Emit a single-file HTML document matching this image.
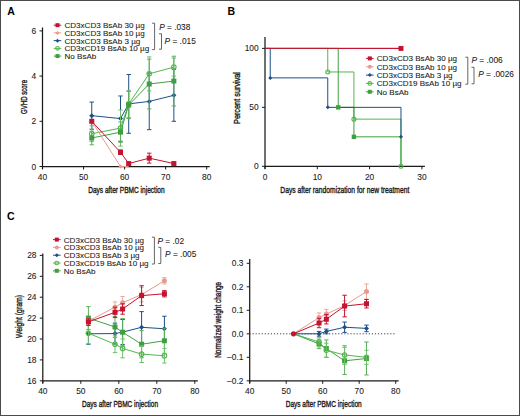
<!DOCTYPE html>
<html><head><meta charset="utf-8"><style>
html,body{margin:0;padding:0;background:#fff;}
body{width:520px;height:416px;overflow:hidden;}
svg{display:block;}
text{font-family:"Liberation Sans",sans-serif;}
</style></head><body>
<svg width="520" height="416" viewBox="0 0 520 416">
<rect x="0" y="0" width="520" height="416" fill="#fff"/>
<text x="7.2" y="14.8" font-size="10.5" font-weight="bold" fill="#000">A</text>
<text x="227.5" y="14.9" font-size="10.5" font-weight="bold" fill="#000">B</text>
<text x="7.0" y="220.4" font-size="10.6" font-weight="bold" fill="#000">C</text>
<line x1="42.50" y1="27.50" x2="42.50" y2="169.00" stroke="#1a1a1a" stroke-width="1.25" />
<line x1="42.50" y1="166.50" x2="209.70" y2="166.50" stroke="#1a1a1a" stroke-width="1.25" />
<line x1="42.50" y1="166.50" x2="42.50" y2="169.50" stroke="#1a1a1a" stroke-width="1" />
<text x="42.50" y="179.70" font-size="8.4" text-anchor="middle" fill="#1a1a1a" stroke="#1a1a1a" stroke-width="0.08" >40</text>
<line x1="83.55" y1="166.50" x2="83.55" y2="169.50" stroke="#1a1a1a" stroke-width="1" />
<text x="83.55" y="179.70" font-size="8.4" text-anchor="middle" fill="#1a1a1a" stroke="#1a1a1a" stroke-width="0.08" >50</text>
<line x1="124.60" y1="166.50" x2="124.60" y2="169.50" stroke="#1a1a1a" stroke-width="1" />
<text x="124.60" y="179.70" font-size="8.4" text-anchor="middle" fill="#1a1a1a" stroke="#1a1a1a" stroke-width="0.08" >60</text>
<line x1="165.65" y1="166.50" x2="165.65" y2="169.50" stroke="#1a1a1a" stroke-width="1" />
<text x="165.65" y="179.70" font-size="8.4" text-anchor="middle" fill="#1a1a1a" stroke="#1a1a1a" stroke-width="0.08" >70</text>
<line x1="206.70" y1="166.50" x2="206.70" y2="169.50" stroke="#1a1a1a" stroke-width="1" />
<text x="206.70" y="179.70" font-size="8.4" text-anchor="middle" fill="#1a1a1a" stroke="#1a1a1a" stroke-width="0.08" >80</text>
<line x1="39.50" y1="166.50" x2="42.50" y2="166.50" stroke="#1a1a1a" stroke-width="1" />
<text x="36.20" y="169.50" font-size="8.4" text-anchor="end" fill="#1a1a1a" stroke="#1a1a1a" stroke-width="0.08" >0</text>
<line x1="39.50" y1="121.30" x2="42.50" y2="121.30" stroke="#1a1a1a" stroke-width="1" />
<text x="36.20" y="124.30" font-size="8.4" text-anchor="end" fill="#1a1a1a" stroke="#1a1a1a" stroke-width="0.08" >2</text>
<line x1="39.50" y1="76.10" x2="42.50" y2="76.10" stroke="#1a1a1a" stroke-width="1" />
<text x="36.20" y="79.10" font-size="8.4" text-anchor="end" fill="#1a1a1a" stroke="#1a1a1a" stroke-width="0.08" >4</text>
<line x1="39.50" y1="30.90" x2="42.50" y2="30.90" stroke="#1a1a1a" stroke-width="1" />
<text x="36.20" y="33.90" font-size="8.4" text-anchor="end" fill="#1a1a1a" stroke="#1a1a1a" stroke-width="0.08" >6</text>
<text transform="translate(26.5,97) rotate(-90)" font-size="9.6" font-weight="normal" text-anchor="middle" fill="#1a1a1a" stroke="#1a1a1a" stroke-width="0.38" textLength="34" lengthAdjust="spacingAndGlyphs">GVHD score</text>
<text x="126.4" y="193" font-size="9.6" font-weight="normal" text-anchor="middle" fill="#1a1a1a" stroke="#1a1a1a" stroke-width="0.38" textLength="76.5" lengthAdjust="spacingAndGlyphs">Days after PBMC injection</text>
<line x1="91.76" y1="102.09" x2="91.76" y2="129.21" stroke="#1d4f86" stroke-width="1" />
<line x1="89.56" y1="102.09" x2="93.96" y2="102.09" stroke="#1d4f86" stroke-width="1" />
<line x1="89.56" y1="129.21" x2="93.96" y2="129.21" stroke="#1d4f86" stroke-width="1" />
<line x1="120.50" y1="95.99" x2="120.50" y2="141.19" stroke="#1d4f86" stroke-width="1" />
<line x1="118.30" y1="95.99" x2="122.70" y2="95.99" stroke="#1d4f86" stroke-width="1" />
<line x1="118.30" y1="141.19" x2="122.70" y2="141.19" stroke="#1d4f86" stroke-width="1" />
<line x1="128.71" y1="74.52" x2="128.71" y2="133.28" stroke="#1d4f86" stroke-width="1" />
<line x1="126.51" y1="74.52" x2="130.91" y2="74.52" stroke="#1d4f86" stroke-width="1" />
<line x1="126.51" y1="133.28" x2="130.91" y2="133.28" stroke="#1d4f86" stroke-width="1" />
<line x1="149.23" y1="73.16" x2="149.23" y2="129.66" stroke="#1d4f86" stroke-width="1" />
<line x1="147.03" y1="73.16" x2="151.43" y2="73.16" stroke="#1d4f86" stroke-width="1" />
<line x1="147.03" y1="129.66" x2="151.43" y2="129.66" stroke="#1d4f86" stroke-width="1" />
<line x1="173.86" y1="69.32" x2="173.86" y2="121.30" stroke="#1d4f86" stroke-width="1" />
<line x1="171.66" y1="69.32" x2="176.06" y2="69.32" stroke="#1d4f86" stroke-width="1" />
<line x1="171.66" y1="121.30" x2="176.06" y2="121.30" stroke="#1d4f86" stroke-width="1" />
<polyline points="91.76,115.65 120.50,118.59 128.71,103.90 149.23,101.41 173.86,95.31" fill="none" stroke="#1d4f86" stroke-width="1"/>
<path d="M89.26,115.65L91.76,113.15L94.26,115.65L91.76,118.15Z" fill="#1d4f86"/>
<path d="M118.00,118.59L120.50,116.09L123.00,118.59L120.50,121.09Z" fill="#1d4f86"/>
<path d="M126.21,103.90L128.71,101.40L131.21,103.90L128.71,106.40Z" fill="#1d4f86"/>
<path d="M146.73,101.41L149.23,98.91L151.73,101.41L149.23,103.91Z" fill="#1d4f86"/>
<path d="M171.36,95.31L173.86,92.81L176.36,95.31L173.86,97.81Z" fill="#1d4f86"/>
<line x1="91.76" y1="125.82" x2="91.76" y2="141.64" stroke="#6fc06b" stroke-width="1" />
<line x1="89.56" y1="125.82" x2="93.96" y2="125.82" stroke="#6fc06b" stroke-width="1" />
<line x1="89.56" y1="141.64" x2="93.96" y2="141.64" stroke="#6fc06b" stroke-width="1" />
<line x1="120.50" y1="110.00" x2="120.50" y2="146.16" stroke="#6fc06b" stroke-width="1" />
<line x1="118.30" y1="110.00" x2="122.70" y2="110.00" stroke="#6fc06b" stroke-width="1" />
<line x1="118.30" y1="146.16" x2="122.70" y2="146.16" stroke="#6fc06b" stroke-width="1" />
<line x1="128.71" y1="90.34" x2="128.71" y2="117.46" stroke="#6fc06b" stroke-width="1" />
<line x1="126.51" y1="90.34" x2="130.91" y2="90.34" stroke="#6fc06b" stroke-width="1" />
<line x1="126.51" y1="117.46" x2="130.91" y2="117.46" stroke="#6fc06b" stroke-width="1" />
<line x1="149.23" y1="56.89" x2="149.23" y2="90.79" stroke="#6fc06b" stroke-width="1" />
<line x1="147.03" y1="56.89" x2="151.43" y2="56.89" stroke="#6fc06b" stroke-width="1" />
<line x1="147.03" y1="90.79" x2="151.43" y2="90.79" stroke="#6fc06b" stroke-width="1" />
<line x1="173.86" y1="58.02" x2="173.86" y2="76.10" stroke="#6fc06b" stroke-width="1" />
<line x1="171.66" y1="58.02" x2="176.06" y2="58.02" stroke="#6fc06b" stroke-width="1" />
<line x1="171.66" y1="76.10" x2="176.06" y2="76.10" stroke="#6fc06b" stroke-width="1" />
<polyline points="91.76,133.73 120.50,128.08 128.71,103.90 149.23,73.84 173.86,67.06" fill="none" stroke="#52b64e" stroke-width="1"/>
<circle cx="91.76" cy="133.73" r="2.25" fill="none" stroke="#52b64e" stroke-width="1.1"/>
<circle cx="120.50" cy="128.08" r="2.25" fill="none" stroke="#52b64e" stroke-width="1.1"/>
<circle cx="128.71" cy="103.90" r="2.25" fill="none" stroke="#52b64e" stroke-width="1.1"/>
<circle cx="149.23" cy="73.84" r="2.25" fill="none" stroke="#52b64e" stroke-width="1.1"/>
<circle cx="173.86" cy="67.06" r="2.25" fill="none" stroke="#52b64e" stroke-width="1.1"/>
<line x1="91.76" y1="131.24" x2="91.76" y2="144.80" stroke="#5cae5c" stroke-width="1" />
<line x1="89.56" y1="131.24" x2="93.96" y2="131.24" stroke="#5cae5c" stroke-width="1" />
<line x1="89.56" y1="144.80" x2="93.96" y2="144.80" stroke="#5cae5c" stroke-width="1" />
<line x1="120.50" y1="121.98" x2="120.50" y2="142.32" stroke="#5cae5c" stroke-width="1" />
<line x1="118.30" y1="121.98" x2="122.70" y2="121.98" stroke="#5cae5c" stroke-width="1" />
<line x1="118.30" y1="142.32" x2="122.70" y2="142.32" stroke="#5cae5c" stroke-width="1" />
<line x1="128.71" y1="91.47" x2="128.71" y2="118.59" stroke="#5cae5c" stroke-width="1" />
<line x1="126.51" y1="91.47" x2="130.91" y2="91.47" stroke="#5cae5c" stroke-width="1" />
<line x1="126.51" y1="118.59" x2="130.91" y2="118.59" stroke="#5cae5c" stroke-width="1" />
<line x1="149.23" y1="59.15" x2="149.23" y2="108.87" stroke="#5cae5c" stroke-width="1" />
<line x1="147.03" y1="59.15" x2="151.43" y2="59.15" stroke="#5cae5c" stroke-width="1" />
<line x1="147.03" y1="108.87" x2="151.43" y2="108.87" stroke="#5cae5c" stroke-width="1" />
<line x1="173.86" y1="56.21" x2="173.86" y2="105.93" stroke="#5cae5c" stroke-width="1" />
<line x1="171.66" y1="56.21" x2="176.06" y2="56.21" stroke="#5cae5c" stroke-width="1" />
<line x1="171.66" y1="105.93" x2="176.06" y2="105.93" stroke="#5cae5c" stroke-width="1" />
<polyline points="91.76,138.02 120.50,132.15 128.71,105.03 149.23,84.01 173.86,81.07" fill="none" stroke="#3f9f3f" stroke-width="1"/>
<rect x="89.26" y="135.52" width="5.00" height="5.00" fill="#3f9f3f"/>
<rect x="118.00" y="129.65" width="5.00" height="5.00" fill="#3f9f3f"/>
<rect x="126.21" y="102.53" width="5.00" height="5.00" fill="#3f9f3f"/>
<rect x="146.73" y="81.51" width="5.00" height="5.00" fill="#3f9f3f"/>
<rect x="171.36" y="78.57" width="5.00" height="5.00" fill="#3f9f3f"/>
<polyline points="91.76,121.30 120.50,166.50 128.71,166.50" fill="none" stroke="#e89a8e" stroke-width="1"/>
<path d="M118.50,166.50L120.50,164.50L122.50,166.50L120.50,168.50Z" fill="#e89a8e"/>
<line x1="120.50" y1="150.00" x2="120.50" y2="154.52" stroke="#c4122f" stroke-width="1" />
<line x1="118.30" y1="150.00" x2="122.70" y2="150.00" stroke="#c4122f" stroke-width="1" />
<line x1="118.30" y1="154.52" x2="122.70" y2="154.52" stroke="#c4122f" stroke-width="1" />
<line x1="128.71" y1="162.43" x2="128.71" y2="164.69" stroke="#c4122f" stroke-width="1" />
<line x1="126.51" y1="162.43" x2="130.91" y2="162.43" stroke="#c4122f" stroke-width="1" />
<line x1="126.51" y1="164.69" x2="130.91" y2="164.69" stroke="#c4122f" stroke-width="1" />
<line x1="149.23" y1="153.17" x2="149.23" y2="163.11" stroke="#c4122f" stroke-width="1" />
<line x1="147.03" y1="153.17" x2="151.43" y2="153.17" stroke="#c4122f" stroke-width="1" />
<line x1="147.03" y1="163.11" x2="151.43" y2="163.11" stroke="#c4122f" stroke-width="1" />
<line x1="173.86" y1="162.43" x2="173.86" y2="164.69" stroke="#c4122f" stroke-width="1" />
<line x1="171.66" y1="162.43" x2="176.06" y2="162.43" stroke="#c4122f" stroke-width="1" />
<line x1="171.66" y1="164.69" x2="176.06" y2="164.69" stroke="#c4122f" stroke-width="1" />
<polyline points="91.76,121.30 120.50,152.26 128.71,163.56 149.23,158.14 173.86,163.56" fill="none" stroke="#c4122f" stroke-width="1"/>
<rect x="89.26" y="118.80" width="5.00" height="5.00" fill="#c4122f"/>
<rect x="118.00" y="149.76" width="5.00" height="5.00" fill="#c4122f"/>
<rect x="126.21" y="161.06" width="5.00" height="5.00" fill="#c4122f"/>
<rect x="146.73" y="155.64" width="5.00" height="5.00" fill="#c4122f"/>
<rect x="171.36" y="161.06" width="5.00" height="5.00" fill="#c4122f"/>
<line x1="53.70" y1="25.20" x2="61.30" y2="25.20" stroke="#c4122f" stroke-width="1" />
<rect x="55.50" y="23.20" width="4.00" height="4.00" fill="#c4122f"/>
<text x="64.50" y="28.10" font-size="8.05" text-anchor="start" fill="#1a1a1a" stroke="#1a1a1a" stroke-width="0.08" >CD3xCD3 BsAb 30 µg</text>
<line x1="53.70" y1="32.92" x2="61.30" y2="32.92" stroke="#e89a8e" stroke-width="1" />
<path d="M55.50,32.92L57.50,30.92L59.50,32.92L57.50,34.92Z" fill="#e89a8e"/>
<text x="64.50" y="35.82" font-size="8.05" text-anchor="start" fill="#1a1a1a" stroke="#1a1a1a" stroke-width="0.08" >CD3xCD3 BsAb 10 µg</text>
<line x1="53.70" y1="40.64" x2="61.30" y2="40.64" stroke="#1d4f86" stroke-width="1" />
<path d="M55.50,40.64L57.50,38.64L59.50,40.64L57.50,42.64Z" fill="#1d4f86"/>
<text x="64.50" y="43.54" font-size="8.05" text-anchor="start" fill="#1a1a1a" stroke="#1a1a1a" stroke-width="0.08" >CD3xCD3 BsAb 3 µg</text>
<line x1="53.70" y1="48.36" x2="61.30" y2="48.36" stroke="#52b64e" stroke-width="1" />
<circle cx="57.50" cy="48.36" r="1.80" fill="none" stroke="#52b64e" stroke-width="1.1"/>
<text x="64.50" y="51.26" font-size="8.05" text-anchor="start" fill="#1a1a1a" stroke="#1a1a1a" stroke-width="0.08" >CD3xCD19 BsAb 10 µg</text>
<line x1="53.70" y1="56.08" x2="61.30" y2="56.08" stroke="#3f9f3f" stroke-width="1" />
<rect x="55.50" y="54.08" width="4.00" height="4.00" fill="#3f9f3f"/>
<text x="64.50" y="58.98" font-size="8.05" text-anchor="start" fill="#1a1a1a" stroke="#1a1a1a" stroke-width="0.08" >No BsAb</text>
<path d="M152.10,23.20H154.60V49.60H152.10" fill="none" stroke="#555" stroke-width="0.9"/>
<path d="M159.00,33.80H161.50V49.20H159.00" fill="none" stroke="#555" stroke-width="0.9"/>
<text x="159.20" y="29.90" font-size="8.3" fill="#1a1a1a" stroke="#1a1a1a" stroke-width="0.08"><tspan font-style="italic">P</tspan> = .038</text>
<text x="164.60" y="43.50" font-size="8.3" fill="#1a1a1a" stroke="#1a1a1a" stroke-width="0.08"><tspan font-style="italic">P</tspan> = .015</text>
<line x1="265.00" y1="37.00" x2="265.00" y2="168.80" stroke="#1a1a1a" stroke-width="1.25" />
<line x1="265.00" y1="166.30" x2="424.90" y2="166.30" stroke="#1a1a1a" stroke-width="1.25" />
<line x1="265.00" y1="166.30" x2="265.00" y2="169.30" stroke="#1a1a1a" stroke-width="1" />
<text x="265.00" y="179.50" font-size="8.4" text-anchor="middle" fill="#1a1a1a" stroke="#1a1a1a" stroke-width="0.08" >0</text>
<line x1="317.30" y1="166.30" x2="317.30" y2="169.30" stroke="#1a1a1a" stroke-width="1" />
<text x="317.30" y="179.50" font-size="8.4" text-anchor="middle" fill="#1a1a1a" stroke="#1a1a1a" stroke-width="0.08" >10</text>
<line x1="369.60" y1="166.30" x2="369.60" y2="169.30" stroke="#1a1a1a" stroke-width="1" />
<text x="369.60" y="179.50" font-size="8.4" text-anchor="middle" fill="#1a1a1a" stroke="#1a1a1a" stroke-width="0.08" >20</text>
<line x1="421.90" y1="166.30" x2="421.90" y2="169.30" stroke="#1a1a1a" stroke-width="1" />
<text x="421.90" y="179.50" font-size="8.4" text-anchor="middle" fill="#1a1a1a" stroke="#1a1a1a" stroke-width="0.08" >30</text>
<line x1="262.00" y1="166.30" x2="265.00" y2="166.30" stroke="#1a1a1a" stroke-width="1" />
<text x="258.70" y="169.30" font-size="8.4" text-anchor="end" fill="#1a1a1a" stroke="#1a1a1a" stroke-width="0.08" >0</text>
<line x1="262.00" y1="107.35" x2="265.00" y2="107.35" stroke="#1a1a1a" stroke-width="1" />
<text x="258.70" y="110.35" font-size="8.4" text-anchor="end" fill="#1a1a1a" stroke="#1a1a1a" stroke-width="0.08" >50</text>
<line x1="262.00" y1="48.40" x2="265.00" y2="48.40" stroke="#1a1a1a" stroke-width="1" />
<text x="258.70" y="51.40" font-size="8.4" text-anchor="end" fill="#1a1a1a" stroke="#1a1a1a" stroke-width="0.08" >100</text>
<text transform="translate(239.5,98) rotate(-90)" font-size="9.6" font-weight="normal" text-anchor="middle" fill="#1a1a1a" stroke="#1a1a1a" stroke-width="0.38" textLength="52" lengthAdjust="spacingAndGlyphs">Percent survival</text>
<text x="344.8" y="192.5" font-size="9.6" font-weight="normal" text-anchor="middle" fill="#1a1a1a" stroke="#1a1a1a" stroke-width="0.38" textLength="129" lengthAdjust="spacingAndGlyphs">Days after randomization for new treatment</text>
<polyline points="265.00,48.40 400.98,48.40" fill="none" stroke="#c4122f" stroke-width="1.0"/>
<rect x="398.68" y="46.10" width="4.60" height="4.60" fill="#c4122f"/>
<polyline points="265.00,48.40 327.76,48.40 327.76,71.98 353.91,71.98 353.91,119.14 400.98,119.14 400.98,166.30" fill="none" stroke="#52b64e" stroke-width="1.0"/>
<polyline points="265.00,48.40 338.22,48.40 338.22,107.35 353.91,107.35 353.91,136.83 400.98,136.83 400.98,166.30" fill="none" stroke="#3f9f3f" stroke-width="1.0"/>
<polyline points="265.00,48.40 270.23,48.40 270.23,77.88 327.76,77.88 327.76,107.35 400.98,107.35 400.98,136.83" fill="none" stroke="#1d4f86" stroke-width="1.0"/>
<line x1="265.00" y1="48.40" x2="400.98" y2="48.40" stroke="#c4122f" stroke-width="1.0" />
<rect x="398.68" y="46.10" width="4.60" height="4.60" fill="#c4122f"/>
<circle cx="327.76" cy="71.98" r="1.98" fill="none" stroke="#52b64e" stroke-width="1.1"/>
<circle cx="353.91" cy="119.14" r="1.98" fill="none" stroke="#52b64e" stroke-width="1.1"/>
<circle cx="400.98" cy="166.30" r="1.98" fill="none" stroke="#52b64e" stroke-width="1.1"/>
<rect x="336.02" y="105.15" width="4.40" height="4.40" fill="#3f9f3f"/>
<rect x="351.71" y="134.63" width="4.40" height="4.40" fill="#3f9f3f"/>
<path d="M268.23,77.88L270.23,75.88L272.23,77.88L270.23,79.88Z" fill="#1d4f86"/>
<path d="M325.76,107.35L327.76,105.35L329.76,107.35L327.76,109.35Z" fill="#1d4f86"/>
<path d="M398.98,136.83L400.98,134.83L402.98,136.83L400.98,138.83Z" fill="#1d4f86"/>
<line x1="366.00" y1="58.40" x2="373.60" y2="58.40" stroke="#c4122f" stroke-width="1" />
<rect x="367.80" y="56.40" width="4.00" height="4.00" fill="#c4122f"/>
<text x="376.80" y="61.30" font-size="8.05" text-anchor="start" fill="#1a1a1a" stroke="#1a1a1a" stroke-width="0.08" >CD3xCD3 BsAb 30 µg</text>
<line x1="366.00" y1="66.75" x2="373.60" y2="66.75" stroke="#e89a8e" stroke-width="1" />
<circle cx="369.80" cy="66.75" r="2.00" fill="#e89a8e"/>
<text x="376.80" y="69.65" font-size="8.05" text-anchor="start" fill="#1a1a1a" stroke="#1a1a1a" stroke-width="0.08" >CD3xCD3 BsAb 10 µg</text>
<line x1="366.00" y1="75.10" x2="373.60" y2="75.10" stroke="#1d4f86" stroke-width="1" />
<path d="M367.80,75.10L369.80,73.10L371.80,75.10L369.80,77.10Z" fill="#1d4f86"/>
<text x="376.80" y="78.00" font-size="8.05" text-anchor="start" fill="#1a1a1a" stroke="#1a1a1a" stroke-width="0.08" >CD3xCD3 BsAb 3 µg</text>
<line x1="366.00" y1="83.45" x2="373.60" y2="83.45" stroke="#52b64e" stroke-width="1" />
<circle cx="369.80" cy="83.45" r="1.80" fill="none" stroke="#52b64e" stroke-width="1.1"/>
<text x="376.80" y="86.35" font-size="8.05" text-anchor="start" fill="#1a1a1a" stroke="#1a1a1a" stroke-width="0.08" >CD3xCD19 BsAb 10 µg</text>
<line x1="366.00" y1="91.80" x2="373.60" y2="91.80" stroke="#3f9f3f" stroke-width="1" />
<rect x="367.80" y="89.80" width="4.00" height="4.00" fill="#3f9f3f"/>
<text x="376.80" y="94.70" font-size="8.05" text-anchor="start" fill="#1a1a1a" stroke="#1a1a1a" stroke-width="0.08" >No BsAb</text>
<path d="M465.30,57.20H467.80V84.20H465.30" fill="none" stroke="#555" stroke-width="0.9"/>
<path d="M471.50,67.30H474.00V83.80H471.50" fill="none" stroke="#555" stroke-width="0.9"/>
<text x="471.50" y="63.20" font-size="8.3" fill="#1a1a1a" stroke="#1a1a1a" stroke-width="0.08"><tspan font-style="italic">P</tspan> = .006</text>
<text x="478.20" y="76.50" font-size="8.3" fill="#1a1a1a" stroke="#1a1a1a" stroke-width="0.08"><tspan font-style="italic">P</tspan> = .0026</text>
<line x1="42.80" y1="253.50" x2="42.80" y2="383.30" stroke="#1a1a1a" stroke-width="1.25" />
<line x1="42.80" y1="380.80" x2="197.80" y2="380.80" stroke="#1a1a1a" stroke-width="1.25" />
<line x1="42.80" y1="380.80" x2="42.80" y2="383.80" stroke="#1a1a1a" stroke-width="1" />
<text x="42.80" y="394.00" font-size="8.4" text-anchor="middle" fill="#1a1a1a" stroke="#1a1a1a" stroke-width="0.08" >40</text>
<line x1="80.80" y1="380.80" x2="80.80" y2="383.80" stroke="#1a1a1a" stroke-width="1" />
<text x="80.80" y="394.00" font-size="8.4" text-anchor="middle" fill="#1a1a1a" stroke="#1a1a1a" stroke-width="0.08" >50</text>
<line x1="118.80" y1="380.80" x2="118.80" y2="383.80" stroke="#1a1a1a" stroke-width="1" />
<text x="118.80" y="394.00" font-size="8.4" text-anchor="middle" fill="#1a1a1a" stroke="#1a1a1a" stroke-width="0.08" >60</text>
<line x1="156.80" y1="380.80" x2="156.80" y2="383.80" stroke="#1a1a1a" stroke-width="1" />
<text x="156.80" y="394.00" font-size="8.4" text-anchor="middle" fill="#1a1a1a" stroke="#1a1a1a" stroke-width="0.08" >70</text>
<line x1="194.80" y1="380.80" x2="194.80" y2="383.80" stroke="#1a1a1a" stroke-width="1" />
<text x="194.80" y="394.00" font-size="8.4" text-anchor="middle" fill="#1a1a1a" stroke="#1a1a1a" stroke-width="0.08" >80</text>
<line x1="39.80" y1="380.80" x2="42.80" y2="380.80" stroke="#1a1a1a" stroke-width="1" />
<text x="36.50" y="383.80" font-size="8.4" text-anchor="end" fill="#1a1a1a" stroke="#1a1a1a" stroke-width="0.08" >16</text>
<line x1="39.80" y1="359.90" x2="42.80" y2="359.90" stroke="#1a1a1a" stroke-width="1" />
<text x="36.50" y="362.90" font-size="8.4" text-anchor="end" fill="#1a1a1a" stroke="#1a1a1a" stroke-width="0.08" >18</text>
<line x1="39.80" y1="339.00" x2="42.80" y2="339.00" stroke="#1a1a1a" stroke-width="1" />
<text x="36.50" y="342.00" font-size="8.4" text-anchor="end" fill="#1a1a1a" stroke="#1a1a1a" stroke-width="0.08" >20</text>
<line x1="39.80" y1="318.10" x2="42.80" y2="318.10" stroke="#1a1a1a" stroke-width="1" />
<text x="36.50" y="321.10" font-size="8.4" text-anchor="end" fill="#1a1a1a" stroke="#1a1a1a" stroke-width="0.08" >22</text>
<line x1="39.80" y1="297.20" x2="42.80" y2="297.20" stroke="#1a1a1a" stroke-width="1" />
<text x="36.50" y="300.20" font-size="8.4" text-anchor="end" fill="#1a1a1a" stroke="#1a1a1a" stroke-width="0.08" >24</text>
<line x1="39.80" y1="276.30" x2="42.80" y2="276.30" stroke="#1a1a1a" stroke-width="1" />
<text x="36.50" y="279.30" font-size="8.4" text-anchor="end" fill="#1a1a1a" stroke="#1a1a1a" stroke-width="0.08" >26</text>
<line x1="39.80" y1="255.40" x2="42.80" y2="255.40" stroke="#1a1a1a" stroke-width="1" />
<text x="36.50" y="258.40" font-size="8.4" text-anchor="end" fill="#1a1a1a" stroke="#1a1a1a" stroke-width="0.08" >28</text>
<text transform="translate(22.3,316.6) rotate(-90)" font-size="9.6" font-weight="normal" text-anchor="middle" fill="#1a1a1a" stroke="#1a1a1a" stroke-width="0.38" textLength="43" lengthAdjust="spacingAndGlyphs">Weight (gram)</text>
<text x="120" y="407" font-size="9.6" font-weight="normal" text-anchor="middle" fill="#1a1a1a" stroke="#1a1a1a" stroke-width="0.38" textLength="76" lengthAdjust="spacingAndGlyphs">Days after PBMC injection</text>
<line x1="88.40" y1="323.33" x2="88.40" y2="344.23" stroke="#1d4f86" stroke-width="1" />
<line x1="86.20" y1="323.33" x2="90.60" y2="323.33" stroke="#1d4f86" stroke-width="1" />
<line x1="86.20" y1="344.23" x2="90.60" y2="344.23" stroke="#1d4f86" stroke-width="1" />
<line x1="115.00" y1="323.12" x2="115.00" y2="344.02" stroke="#1d4f86" stroke-width="1" />
<line x1="112.80" y1="323.12" x2="117.20" y2="323.12" stroke="#1d4f86" stroke-width="1" />
<line x1="112.80" y1="344.02" x2="117.20" y2="344.02" stroke="#1d4f86" stroke-width="1" />
<line x1="122.60" y1="319.56" x2="122.60" y2="344.64" stroke="#1d4f86" stroke-width="1" />
<line x1="120.40" y1="319.56" x2="124.80" y2="319.56" stroke="#1d4f86" stroke-width="1" />
<line x1="120.40" y1="344.64" x2="124.80" y2="344.64" stroke="#1d4f86" stroke-width="1" />
<line x1="141.60" y1="311.62" x2="141.60" y2="342.97" stroke="#1d4f86" stroke-width="1" />
<line x1="139.40" y1="311.62" x2="143.80" y2="311.62" stroke="#1d4f86" stroke-width="1" />
<line x1="139.40" y1="342.97" x2="143.80" y2="342.97" stroke="#1d4f86" stroke-width="1" />
<line x1="164.40" y1="316.22" x2="164.40" y2="341.30" stroke="#1d4f86" stroke-width="1" />
<line x1="162.20" y1="316.22" x2="166.60" y2="316.22" stroke="#1d4f86" stroke-width="1" />
<line x1="162.20" y1="341.30" x2="166.60" y2="341.30" stroke="#1d4f86" stroke-width="1" />
<polyline points="88.40,333.78 115.00,333.57 122.60,332.10 141.60,327.30 164.40,328.76" fill="none" stroke="#1d4f86" stroke-width="1"/>
<path d="M85.90,333.78L88.40,331.28L90.90,333.78L88.40,336.28Z" fill="#1d4f86"/>
<path d="M112.50,333.57L115.00,331.07L117.50,333.57L115.00,336.07Z" fill="#1d4f86"/>
<path d="M120.10,332.10L122.60,329.60L125.10,332.10L122.60,334.60Z" fill="#1d4f86"/>
<path d="M139.10,327.30L141.60,324.80L144.10,327.30L141.60,329.80Z" fill="#1d4f86"/>
<path d="M161.90,328.76L164.40,326.26L166.90,328.76L164.40,331.26Z" fill="#1d4f86"/>
<line x1="88.40" y1="306.61" x2="88.40" y2="329.60" stroke="#5cae5c" stroke-width="1" />
<line x1="86.20" y1="306.61" x2="90.60" y2="306.61" stroke="#5cae5c" stroke-width="1" />
<line x1="86.20" y1="329.60" x2="90.60" y2="329.60" stroke="#5cae5c" stroke-width="1" />
<line x1="115.00" y1="316.53" x2="115.00" y2="337.43" stroke="#5cae5c" stroke-width="1" />
<line x1="112.80" y1="316.53" x2="117.20" y2="316.53" stroke="#5cae5c" stroke-width="1" />
<line x1="112.80" y1="337.43" x2="117.20" y2="337.43" stroke="#5cae5c" stroke-width="1" />
<line x1="122.60" y1="318.62" x2="122.60" y2="345.79" stroke="#5cae5c" stroke-width="1" />
<line x1="120.40" y1="318.62" x2="124.80" y2="318.62" stroke="#5cae5c" stroke-width="1" />
<line x1="120.40" y1="345.79" x2="124.80" y2="345.79" stroke="#5cae5c" stroke-width="1" />
<line x1="141.60" y1="330.64" x2="141.60" y2="357.81" stroke="#5cae5c" stroke-width="1" />
<line x1="139.40" y1="330.64" x2="143.80" y2="330.64" stroke="#5cae5c" stroke-width="1" />
<line x1="139.40" y1="357.81" x2="143.80" y2="357.81" stroke="#5cae5c" stroke-width="1" />
<line x1="164.40" y1="328.24" x2="164.40" y2="353.32" stroke="#5cae5c" stroke-width="1" />
<line x1="162.20" y1="328.24" x2="166.60" y2="328.24" stroke="#5cae5c" stroke-width="1" />
<line x1="162.20" y1="353.32" x2="166.60" y2="353.32" stroke="#5cae5c" stroke-width="1" />
<polyline points="88.40,318.10 115.00,326.98 122.60,332.21 141.60,344.23 164.40,340.78" fill="none" stroke="#3f9f3f" stroke-width="1"/>
<rect x="85.90" y="315.60" width="5.00" height="5.00" fill="#3f9f3f"/>
<rect x="112.50" y="324.48" width="5.00" height="5.00" fill="#3f9f3f"/>
<rect x="120.10" y="329.71" width="5.00" height="5.00" fill="#3f9f3f"/>
<rect x="139.10" y="341.73" width="5.00" height="5.00" fill="#3f9f3f"/>
<rect x="161.90" y="338.28" width="5.00" height="5.00" fill="#3f9f3f"/>
<line x1="88.40" y1="322.80" x2="88.40" y2="343.70" stroke="#6fc06b" stroke-width="1" />
<line x1="86.20" y1="322.80" x2="90.60" y2="322.80" stroke="#6fc06b" stroke-width="1" />
<line x1="86.20" y1="343.70" x2="90.60" y2="343.70" stroke="#6fc06b" stroke-width="1" />
<line x1="115.00" y1="335.87" x2="115.00" y2="352.59" stroke="#6fc06b" stroke-width="1" />
<line x1="112.80" y1="335.87" x2="117.20" y2="335.87" stroke="#6fc06b" stroke-width="1" />
<line x1="112.80" y1="352.59" x2="117.20" y2="352.59" stroke="#6fc06b" stroke-width="1" />
<line x1="122.60" y1="339.00" x2="122.60" y2="357.81" stroke="#6fc06b" stroke-width="1" />
<line x1="120.40" y1="339.00" x2="124.80" y2="339.00" stroke="#6fc06b" stroke-width="1" />
<line x1="120.40" y1="357.81" x2="124.80" y2="357.81" stroke="#6fc06b" stroke-width="1" />
<line x1="141.60" y1="345.79" x2="141.60" y2="362.51" stroke="#6fc06b" stroke-width="1" />
<line x1="139.40" y1="345.79" x2="143.80" y2="345.79" stroke="#6fc06b" stroke-width="1" />
<line x1="139.40" y1="362.51" x2="143.80" y2="362.51" stroke="#6fc06b" stroke-width="1" />
<line x1="164.40" y1="348.41" x2="164.40" y2="363.04" stroke="#6fc06b" stroke-width="1" />
<line x1="162.20" y1="348.41" x2="166.60" y2="348.41" stroke="#6fc06b" stroke-width="1" />
<line x1="162.20" y1="363.04" x2="166.60" y2="363.04" stroke="#6fc06b" stroke-width="1" />
<polyline points="88.40,333.25 115.00,344.23 122.60,348.40 141.60,354.15 164.40,355.72" fill="none" stroke="#52b64e" stroke-width="1"/>
<circle cx="88.40" cy="333.25" r="2.25" fill="none" stroke="#52b64e" stroke-width="1.1"/>
<circle cx="115.00" cy="344.23" r="2.25" fill="none" stroke="#52b64e" stroke-width="1.1"/>
<circle cx="122.60" cy="348.40" r="2.25" fill="none" stroke="#52b64e" stroke-width="1.1"/>
<circle cx="141.60" cy="354.15" r="2.25" fill="none" stroke="#52b64e" stroke-width="1.1"/>
<circle cx="164.40" cy="355.72" r="2.25" fill="none" stroke="#52b64e" stroke-width="1.1"/>
<line x1="88.40" y1="318.10" x2="88.40" y2="324.37" stroke="#eba89e" stroke-width="1" />
<line x1="86.20" y1="318.10" x2="90.60" y2="318.10" stroke="#eba89e" stroke-width="1" />
<line x1="86.20" y1="324.37" x2="90.60" y2="324.37" stroke="#eba89e" stroke-width="1" />
<line x1="115.00" y1="301.90" x2="115.00" y2="312.35" stroke="#eba89e" stroke-width="1" />
<line x1="112.80" y1="301.90" x2="117.20" y2="301.90" stroke="#eba89e" stroke-width="1" />
<line x1="112.80" y1="312.35" x2="117.20" y2="312.35" stroke="#eba89e" stroke-width="1" />
<line x1="122.60" y1="296.47" x2="122.60" y2="309.01" stroke="#eba89e" stroke-width="1" />
<line x1="120.40" y1="296.47" x2="124.80" y2="296.47" stroke="#eba89e" stroke-width="1" />
<line x1="120.40" y1="309.01" x2="124.80" y2="309.01" stroke="#eba89e" stroke-width="1" />
<line x1="141.60" y1="287.27" x2="141.60" y2="301.90" stroke="#eba89e" stroke-width="1" />
<line x1="139.40" y1="287.27" x2="143.80" y2="287.27" stroke="#eba89e" stroke-width="1" />
<line x1="139.40" y1="301.90" x2="143.80" y2="301.90" stroke="#eba89e" stroke-width="1" />
<line x1="164.40" y1="277.66" x2="164.40" y2="283.93" stroke="#eba89e" stroke-width="1" />
<line x1="162.20" y1="277.66" x2="166.60" y2="277.66" stroke="#eba89e" stroke-width="1" />
<line x1="162.20" y1="283.93" x2="166.60" y2="283.93" stroke="#eba89e" stroke-width="1" />
<polyline points="88.40,321.24 115.00,307.13 122.60,302.74 141.60,294.59 164.40,280.79" fill="none" stroke="#e89a8e" stroke-width="1"/>
<circle cx="88.40" cy="321.24" r="2.50" fill="#e89a8e"/>
<circle cx="115.00" cy="307.13" r="2.50" fill="#e89a8e"/>
<circle cx="122.60" cy="302.74" r="2.50" fill="#e89a8e"/>
<circle cx="141.60" cy="294.59" r="2.50" fill="#e89a8e"/>
<circle cx="164.40" cy="280.79" r="2.50" fill="#e89a8e"/>
<line x1="88.40" y1="318.20" x2="88.40" y2="325.52" stroke="#c4122f" stroke-width="1" />
<line x1="86.20" y1="318.20" x2="90.60" y2="318.20" stroke="#c4122f" stroke-width="1" />
<line x1="86.20" y1="325.52" x2="90.60" y2="325.52" stroke="#c4122f" stroke-width="1" />
<line x1="115.00" y1="307.13" x2="115.00" y2="317.58" stroke="#c4122f" stroke-width="1" />
<line x1="112.80" y1="307.13" x2="117.20" y2="307.13" stroke="#c4122f" stroke-width="1" />
<line x1="112.80" y1="317.58" x2="117.20" y2="317.58" stroke="#c4122f" stroke-width="1" />
<line x1="122.60" y1="303.78" x2="122.60" y2="314.23" stroke="#c4122f" stroke-width="1" />
<line x1="120.40" y1="303.78" x2="124.80" y2="303.78" stroke="#c4122f" stroke-width="1" />
<line x1="120.40" y1="314.23" x2="124.80" y2="314.23" stroke="#c4122f" stroke-width="1" />
<line x1="141.60" y1="285.71" x2="141.60" y2="305.56" stroke="#c4122f" stroke-width="1" />
<line x1="139.40" y1="285.71" x2="143.80" y2="285.71" stroke="#c4122f" stroke-width="1" />
<line x1="139.40" y1="305.56" x2="143.80" y2="305.56" stroke="#c4122f" stroke-width="1" />
<line x1="164.40" y1="290.62" x2="164.40" y2="296.89" stroke="#c4122f" stroke-width="1" />
<line x1="162.20" y1="290.62" x2="166.60" y2="290.62" stroke="#c4122f" stroke-width="1" />
<line x1="162.20" y1="296.89" x2="166.60" y2="296.89" stroke="#c4122f" stroke-width="1" />
<polyline points="88.40,321.86 115.00,312.35 122.60,309.01 141.60,295.63 164.40,293.75" fill="none" stroke="#c4122f" stroke-width="1"/>
<rect x="85.90" y="319.36" width="5.00" height="5.00" fill="#c4122f"/>
<rect x="112.50" y="309.85" width="5.00" height="5.00" fill="#c4122f"/>
<rect x="120.10" y="306.51" width="5.00" height="5.00" fill="#c4122f"/>
<rect x="139.10" y="293.13" width="5.00" height="5.00" fill="#c4122f"/>
<rect x="161.90" y="291.25" width="5.00" height="5.00" fill="#c4122f"/>
<line x1="53.00" y1="239.60" x2="60.60" y2="239.60" stroke="#c4122f" stroke-width="1" />
<rect x="54.80" y="237.60" width="4.00" height="4.00" fill="#c4122f"/>
<text x="63.80" y="242.50" font-size="8.05" text-anchor="start" fill="#1a1a1a" stroke="#1a1a1a" stroke-width="0.08" >CD3xCD3 BsAb 30 µg</text>
<line x1="53.00" y1="247.40" x2="60.60" y2="247.40" stroke="#e89a8e" stroke-width="1" />
<circle cx="56.80" cy="247.40" r="2.00" fill="#e89a8e"/>
<text x="63.80" y="250.30" font-size="8.05" text-anchor="start" fill="#1a1a1a" stroke="#1a1a1a" stroke-width="0.08" >CD3xCD3 BsAb 10 µg</text>
<line x1="53.00" y1="255.20" x2="60.60" y2="255.20" stroke="#1d4f86" stroke-width="1" />
<path d="M54.80,255.20L56.80,253.20L58.80,255.20L56.80,257.20Z" fill="#1d4f86"/>
<text x="63.80" y="258.10" font-size="8.05" text-anchor="start" fill="#1a1a1a" stroke="#1a1a1a" stroke-width="0.08" >CD3xCD3 BsAb 3 µg</text>
<line x1="53.00" y1="263.00" x2="60.60" y2="263.00" stroke="#52b64e" stroke-width="1" />
<circle cx="56.80" cy="263.00" r="1.80" fill="none" stroke="#52b64e" stroke-width="1.1"/>
<text x="63.80" y="265.90" font-size="8.05" text-anchor="start" fill="#1a1a1a" stroke="#1a1a1a" stroke-width="0.08" >CD3xCD19 BsAb 10 µg</text>
<line x1="53.00" y1="270.80" x2="60.60" y2="270.80" stroke="#3f9f3f" stroke-width="1" />
<rect x="54.80" y="268.80" width="4.00" height="4.00" fill="#3f9f3f"/>
<text x="63.80" y="273.70" font-size="8.05" text-anchor="start" fill="#1a1a1a" stroke="#1a1a1a" stroke-width="0.08" >No BsAb</text>
<path d="M151.90,237.20H154.40V264.00H151.90" fill="none" stroke="#555" stroke-width="0.9"/>
<path d="M158.30,247.30H160.80V263.50H158.30" fill="none" stroke="#555" stroke-width="0.9"/>
<text x="157.50" y="244.00" font-size="8.3" fill="#1a1a1a" stroke="#1a1a1a" stroke-width="0.08"><tspan font-style="italic">P</tspan> = .02</text>
<text x="165.10" y="256.60" font-size="8.3" fill="#1a1a1a" stroke="#1a1a1a" stroke-width="0.08"><tspan font-style="italic">P</tspan> = .005</text>
<line x1="249.70" y1="259.00" x2="249.70" y2="383.30" stroke="#1a1a1a" stroke-width="1.25" />
<line x1="249.70" y1="380.80" x2="398.70" y2="380.80" stroke="#1a1a1a" stroke-width="1.25" />
<line x1="249.70" y1="380.80" x2="249.70" y2="383.80" stroke="#1a1a1a" stroke-width="1" />
<text x="249.70" y="394.00" font-size="8.4" text-anchor="middle" fill="#1a1a1a" stroke="#1a1a1a" stroke-width="0.08" >40</text>
<line x1="286.20" y1="380.80" x2="286.20" y2="383.80" stroke="#1a1a1a" stroke-width="1" />
<text x="286.20" y="394.00" font-size="8.4" text-anchor="middle" fill="#1a1a1a" stroke="#1a1a1a" stroke-width="0.08" >50</text>
<line x1="322.70" y1="380.80" x2="322.70" y2="383.80" stroke="#1a1a1a" stroke-width="1" />
<text x="322.70" y="394.00" font-size="8.4" text-anchor="middle" fill="#1a1a1a" stroke="#1a1a1a" stroke-width="0.08" >60</text>
<line x1="359.20" y1="380.80" x2="359.20" y2="383.80" stroke="#1a1a1a" stroke-width="1" />
<text x="359.20" y="394.00" font-size="8.4" text-anchor="middle" fill="#1a1a1a" stroke="#1a1a1a" stroke-width="0.08" >70</text>
<line x1="395.70" y1="380.80" x2="395.70" y2="383.80" stroke="#1a1a1a" stroke-width="1" />
<text x="395.70" y="394.00" font-size="8.4" text-anchor="middle" fill="#1a1a1a" stroke="#1a1a1a" stroke-width="0.08" >80</text>
<line x1="246.70" y1="380.80" x2="249.70" y2="380.80" stroke="#1a1a1a" stroke-width="1" />
<text x="243.40" y="383.80" font-size="8.4" text-anchor="end" fill="#1a1a1a" stroke="#1a1a1a" stroke-width="0.08" >–0.2</text>
<line x1="246.70" y1="357.30" x2="249.70" y2="357.30" stroke="#1a1a1a" stroke-width="1" />
<text x="243.40" y="360.30" font-size="8.4" text-anchor="end" fill="#1a1a1a" stroke="#1a1a1a" stroke-width="0.08" >–0.1</text>
<line x1="246.70" y1="333.80" x2="249.70" y2="333.80" stroke="#1a1a1a" stroke-width="1" />
<text x="243.40" y="336.80" font-size="8.4" text-anchor="end" fill="#1a1a1a" stroke="#1a1a1a" stroke-width="0.08" >0.0</text>
<line x1="246.70" y1="310.30" x2="249.70" y2="310.30" stroke="#1a1a1a" stroke-width="1" />
<text x="243.40" y="313.30" font-size="8.4" text-anchor="end" fill="#1a1a1a" stroke="#1a1a1a" stroke-width="0.08" >0.1</text>
<line x1="246.70" y1="286.80" x2="249.70" y2="286.80" stroke="#1a1a1a" stroke-width="1" />
<text x="243.40" y="289.80" font-size="8.4" text-anchor="end" fill="#1a1a1a" stroke="#1a1a1a" stroke-width="0.08" >0.2</text>
<line x1="246.70" y1="263.30" x2="249.70" y2="263.30" stroke="#1a1a1a" stroke-width="1" />
<text x="243.40" y="266.30" font-size="8.4" text-anchor="end" fill="#1a1a1a" stroke="#1a1a1a" stroke-width="0.08" >0.3</text>
<text transform="translate(221,319.8) rotate(-90)" font-size="9.6" font-weight="normal" text-anchor="middle" fill="#1a1a1a" stroke="#1a1a1a" stroke-width="0.38" textLength="76" lengthAdjust="spacingAndGlyphs">Normalized weight change</text>
<text x="323.7" y="407" font-size="9.6" font-weight="normal" text-anchor="middle" fill="#1a1a1a" stroke="#1a1a1a" stroke-width="0.38" textLength="76" lengthAdjust="spacingAndGlyphs">Days after PBMC injection</text>
<line x1="249.45" y1="333.80" x2="394.50" y2="333.80" stroke="#444" stroke-width="1" stroke-dasharray="1.2 1.86"/>
<line x1="319.05" y1="339.20" x2="319.05" y2="348.61" stroke="#5cae5c" stroke-width="1" />
<line x1="316.85" y1="339.20" x2="321.25" y2="339.20" stroke="#5cae5c" stroke-width="1" />
<line x1="316.85" y1="348.61" x2="321.25" y2="348.61" stroke="#5cae5c" stroke-width="1" />
<line x1="326.35" y1="339.91" x2="326.35" y2="357.30" stroke="#5cae5c" stroke-width="1" />
<line x1="324.15" y1="339.91" x2="328.55" y2="339.91" stroke="#5cae5c" stroke-width="1" />
<line x1="324.15" y1="357.30" x2="328.55" y2="357.30" stroke="#5cae5c" stroke-width="1" />
<line x1="344.60" y1="347.19" x2="344.60" y2="374.46" stroke="#5cae5c" stroke-width="1" />
<line x1="342.40" y1="347.19" x2="346.80" y2="347.19" stroke="#5cae5c" stroke-width="1" />
<line x1="342.40" y1="374.46" x2="346.80" y2="374.46" stroke="#5cae5c" stroke-width="1" />
<line x1="366.50" y1="342.02" x2="366.50" y2="374.93" stroke="#5cae5c" stroke-width="1" />
<line x1="364.30" y1="342.02" x2="368.70" y2="342.02" stroke="#5cae5c" stroke-width="1" />
<line x1="364.30" y1="374.93" x2="368.70" y2="374.93" stroke="#5cae5c" stroke-width="1" />
<polyline points="293.50,333.80 319.05,343.90 326.35,348.61 344.60,360.82 366.50,358.48" fill="none" stroke="#3f9f3f" stroke-width="1"/>
<rect x="316.55" y="341.40" width="5.00" height="5.00" fill="#3f9f3f"/>
<rect x="323.85" y="346.11" width="5.00" height="5.00" fill="#3f9f3f"/>
<rect x="342.10" y="358.32" width="5.00" height="5.00" fill="#3f9f3f"/>
<rect x="364.00" y="355.98" width="5.00" height="5.00" fill="#3f9f3f"/>
<line x1="319.05" y1="337.32" x2="319.05" y2="346.73" stroke="#6fc06b" stroke-width="1" />
<line x1="316.85" y1="337.32" x2="321.25" y2="337.32" stroke="#6fc06b" stroke-width="1" />
<line x1="316.85" y1="346.73" x2="321.25" y2="346.73" stroke="#6fc06b" stroke-width="1" />
<line x1="326.35" y1="343.20" x2="326.35" y2="357.30" stroke="#6fc06b" stroke-width="1" />
<line x1="324.15" y1="343.20" x2="328.55" y2="343.20" stroke="#6fc06b" stroke-width="1" />
<line x1="324.15" y1="357.30" x2="328.55" y2="357.30" stroke="#6fc06b" stroke-width="1" />
<line x1="344.60" y1="345.55" x2="344.60" y2="364.35" stroke="#6fc06b" stroke-width="1" />
<line x1="342.40" y1="345.55" x2="346.80" y2="345.55" stroke="#6fc06b" stroke-width="1" />
<line x1="342.40" y1="364.35" x2="346.80" y2="364.35" stroke="#6fc06b" stroke-width="1" />
<line x1="366.50" y1="350.25" x2="366.50" y2="364.35" stroke="#6fc06b" stroke-width="1" />
<line x1="364.30" y1="350.25" x2="368.70" y2="350.25" stroke="#6fc06b" stroke-width="1" />
<line x1="364.30" y1="364.35" x2="368.70" y2="364.35" stroke="#6fc06b" stroke-width="1" />
<polyline points="293.50,333.80 319.05,342.03 326.35,350.25 344.60,354.95 366.50,357.30" fill="none" stroke="#52b64e" stroke-width="1"/>
<circle cx="319.05" cy="342.03" r="2.25" fill="none" stroke="#52b64e" stroke-width="1.1"/>
<circle cx="326.35" cy="350.25" r="2.25" fill="none" stroke="#52b64e" stroke-width="1.1"/>
<circle cx="344.60" cy="354.95" r="2.25" fill="none" stroke="#52b64e" stroke-width="1.1"/>
<circle cx="366.50" cy="357.30" r="2.25" fill="none" stroke="#52b64e" stroke-width="1.1"/>
<line x1="319.05" y1="331.45" x2="319.05" y2="336.15" stroke="#1d4f86" stroke-width="1" />
<line x1="316.85" y1="331.45" x2="321.25" y2="331.45" stroke="#1d4f86" stroke-width="1" />
<line x1="316.85" y1="336.15" x2="321.25" y2="336.15" stroke="#1d4f86" stroke-width="1" />
<line x1="326.35" y1="329.10" x2="326.35" y2="333.80" stroke="#1d4f86" stroke-width="1" />
<line x1="324.15" y1="329.10" x2="328.55" y2="329.10" stroke="#1d4f86" stroke-width="1" />
<line x1="324.15" y1="333.80" x2="328.55" y2="333.80" stroke="#1d4f86" stroke-width="1" />
<line x1="344.60" y1="322.05" x2="344.60" y2="332.39" stroke="#1d4f86" stroke-width="1" />
<line x1="342.40" y1="322.05" x2="346.80" y2="322.05" stroke="#1d4f86" stroke-width="1" />
<line x1="342.40" y1="332.39" x2="346.80" y2="332.39" stroke="#1d4f86" stroke-width="1" />
<line x1="366.50" y1="325.11" x2="366.50" y2="331.69" stroke="#1d4f86" stroke-width="1" />
<line x1="364.30" y1="325.11" x2="368.70" y2="325.11" stroke="#1d4f86" stroke-width="1" />
<line x1="364.30" y1="331.69" x2="368.70" y2="331.69" stroke="#1d4f86" stroke-width="1" />
<polyline points="293.50,333.80 319.05,333.80 326.35,331.45 344.60,327.22 366.50,328.39" fill="none" stroke="#1d4f86" stroke-width="1"/>
<path d="M316.55,333.80L319.05,331.30L321.55,333.80L319.05,336.30Z" fill="#1d4f86"/>
<path d="M323.85,331.45L326.35,328.95L328.85,331.45L326.35,333.95Z" fill="#1d4f86"/>
<path d="M342.10,327.22L344.60,324.72L347.10,327.22L344.60,329.72Z" fill="#1d4f86"/>
<path d="M364.00,328.39L366.50,325.89L369.00,328.39L366.50,330.89Z" fill="#1d4f86"/>
<line x1="319.05" y1="312.88" x2="319.05" y2="322.29" stroke="#eba89e" stroke-width="1" />
<line x1="316.85" y1="312.88" x2="321.25" y2="312.88" stroke="#eba89e" stroke-width="1" />
<line x1="316.85" y1="322.29" x2="321.25" y2="322.29" stroke="#eba89e" stroke-width="1" />
<line x1="326.35" y1="309.36" x2="326.35" y2="318.76" stroke="#eba89e" stroke-width="1" />
<line x1="324.15" y1="309.36" x2="328.55" y2="309.36" stroke="#eba89e" stroke-width="1" />
<line x1="324.15" y1="318.76" x2="328.55" y2="318.76" stroke="#eba89e" stroke-width="1" />
<line x1="344.60" y1="300.90" x2="344.60" y2="310.30" stroke="#eba89e" stroke-width="1" />
<line x1="342.40" y1="300.90" x2="346.80" y2="300.90" stroke="#eba89e" stroke-width="1" />
<line x1="342.40" y1="310.30" x2="346.80" y2="310.30" stroke="#eba89e" stroke-width="1" />
<line x1="366.50" y1="283.98" x2="366.50" y2="299.02" stroke="#eba89e" stroke-width="1" />
<line x1="364.30" y1="283.98" x2="368.70" y2="283.98" stroke="#eba89e" stroke-width="1" />
<line x1="364.30" y1="299.02" x2="368.70" y2="299.02" stroke="#eba89e" stroke-width="1" />
<polyline points="293.50,333.80 319.05,317.59 326.35,314.06 344.60,305.60 366.50,291.50" fill="none" stroke="#e89a8e" stroke-width="1"/>
<circle cx="319.05" cy="317.59" r="2.50" fill="#e89a8e"/>
<circle cx="326.35" cy="314.06" r="2.50" fill="#e89a8e"/>
<circle cx="344.60" cy="305.60" r="2.50" fill="#e89a8e"/>
<circle cx="366.50" cy="291.50" r="2.50" fill="#e89a8e"/>
<line x1="319.05" y1="318.29" x2="319.05" y2="327.69" stroke="#c4122f" stroke-width="1" />
<line x1="316.85" y1="318.29" x2="321.25" y2="318.29" stroke="#c4122f" stroke-width="1" />
<line x1="316.85" y1="327.69" x2="321.25" y2="327.69" stroke="#c4122f" stroke-width="1" />
<line x1="326.35" y1="314.53" x2="326.35" y2="323.93" stroke="#c4122f" stroke-width="1" />
<line x1="324.15" y1="314.53" x2="328.55" y2="314.53" stroke="#c4122f" stroke-width="1" />
<line x1="324.15" y1="323.93" x2="328.55" y2="323.93" stroke="#c4122f" stroke-width="1" />
<line x1="344.60" y1="295.26" x2="344.60" y2="316.88" stroke="#c4122f" stroke-width="1" />
<line x1="342.40" y1="295.26" x2="346.80" y2="295.26" stroke="#c4122f" stroke-width="1" />
<line x1="342.40" y1="316.88" x2="346.80" y2="316.88" stroke="#c4122f" stroke-width="1" />
<line x1="366.50" y1="299.49" x2="366.50" y2="307.95" stroke="#c4122f" stroke-width="1" />
<line x1="364.30" y1="299.49" x2="368.70" y2="299.49" stroke="#c4122f" stroke-width="1" />
<line x1="364.30" y1="307.95" x2="368.70" y2="307.95" stroke="#c4122f" stroke-width="1" />
<polyline points="293.50,333.80 319.05,322.99 326.35,319.23 344.60,306.07 366.50,303.72" fill="none" stroke="#c4122f" stroke-width="1"/>
<rect x="316.55" y="320.49" width="5.00" height="5.00" fill="#c4122f"/>
<rect x="323.85" y="316.73" width="5.00" height="5.00" fill="#c4122f"/>
<rect x="342.10" y="303.57" width="5.00" height="5.00" fill="#c4122f"/>
<rect x="364.00" y="301.22" width="5.00" height="5.00" fill="#c4122f"/>
<circle cx="293.50" cy="333.80" r="2.60" fill="#c4122f"/>
<rect x="0.5" y="0.5" width="519" height="415" fill="none" stroke="#4a4a4a" stroke-width="1"/>
</svg></body></html>
